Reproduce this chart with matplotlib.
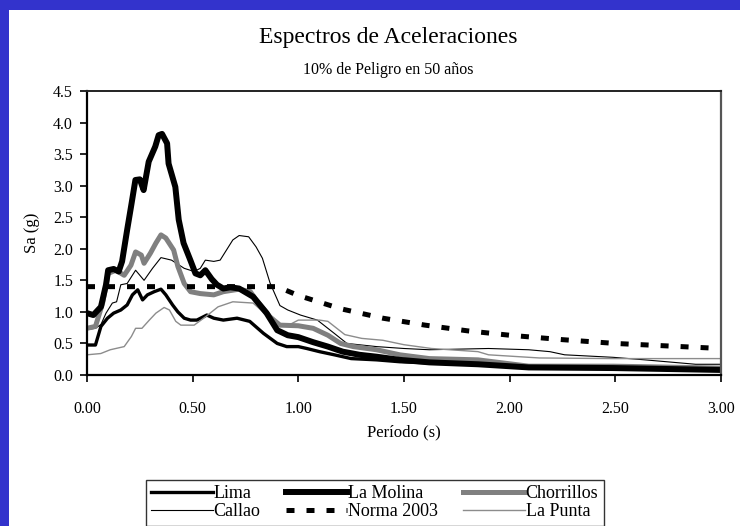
import matplotlib
matplotlib.use("Agg")
import matplotlib.pyplot as plt
from matplotlib.patches import Rectangle
from matplotlib.ticker import FormatStrFormatter, MultipleLocator

plt.rcParams['font.family'] = ['Liberation Serif', 'DejaVu Serif']

# Spectral acceleration Sa (g) vs. period T (s)
lima_t = [0.00, 0.04, 0.066, 0.097, 0.126, 0.16, 0.19, 0.215, 0.24, 0.263, 0.286, 0.318,
          0.35, 0.373, 0.405, 0.43, 0.46, 0.49, 0.52, 0.567, 0.60, 0.645, 0.71, 0.77,
          0.835, 0.90, 0.945, 1.00, 1.04, 1.10, 1.17, 1.25, 1.37, 1.48, 1.65, 1.85,
          2.10, 2.50, 3.00]
lima_sa = [0.475, 0.475, 0.77, 0.90, 0.98, 1.03, 1.11, 1.27, 1.35, 1.19, 1.27, 1.32,
           1.36, 1.27, 1.11, 1.00, 0.90, 0.87, 0.87, 0.95, 0.90, 0.87, 0.90, 0.85,
           0.66, 0.50, 0.45, 0.45, 0.42, 0.37, 0.32, 0.26, 0.24, 0.21, 0.19, 0.17,
           0.14, 0.12, 0.10]

molina_t = [0.00, 0.03, 0.066, 0.09, 0.10, 0.126, 0.15, 0.166, 0.19, 0.21, 0.229, 0.25,
            0.268, 0.292, 0.323, 0.339, 0.355, 0.379, 0.386, 0.418, 0.434, 0.457, 0.489,
            0.513, 0.536, 0.56, 0.59, 0.615, 0.645, 0.678, 0.72, 0.786, 0.85, 0.90,
            0.95, 1.00, 1.07, 1.14, 1.21, 1.29, 1.37, 1.48, 1.62, 1.85, 2.09, 2.49, 3.00]
molina_sa = [0.98, 0.95, 1.08, 1.43, 1.66, 1.68, 1.64, 1.80, 2.30, 2.70, 3.09, 3.10,
             2.93, 3.38, 3.62, 3.80, 3.82, 3.67, 3.35, 2.98, 2.46, 2.09, 1.82,
             1.61, 1.58, 1.66, 1.52, 1.43, 1.37, 1.39, 1.37, 1.24, 0.98, 0.71,
             0.63, 0.60, 0.52, 0.45, 0.37, 0.32, 0.29, 0.24, 0.20, 0.17, 0.12, 0.11, 0.08]

chorrillos_t = [0.00, 0.04, 0.074, 0.10, 0.137, 0.176, 0.208, 0.23, 0.257, 0.27, 0.30,
                0.326, 0.35, 0.373, 0.41, 0.43, 0.46, 0.49, 0.536, 0.60, 0.645, 0.72,
                0.773, 0.80, 0.866, 0.913, 1.00, 1.07, 1.14, 1.20, 1.26, 1.37, 1.48,
                1.62, 1.85, 2.09, 2.49, 3.00]
chorrillos_sa = [0.74, 0.77, 1.14, 1.61, 1.66, 1.58, 1.74, 1.95, 1.90, 1.77, 1.93,
                 2.09, 2.22, 2.17, 1.98, 1.72, 1.45, 1.32, 1.29, 1.27, 1.32, 1.36,
                 1.32, 1.19, 0.92, 0.79, 0.78, 0.74, 0.63, 0.50, 0.45, 0.40, 0.32,
                 0.26, 0.24, 0.14, 0.14, 0.11]

callao_t = [0.00, 0.04, 0.066, 0.09, 0.12, 0.14, 0.16, 0.19, 0.23, 0.27, 0.31, 0.35,
            0.40, 0.46, 0.507, 0.536, 0.56, 0.60, 0.63, 0.66, 0.69, 0.72, 0.765, 0.80,
            0.83, 0.866, 0.913, 0.95, 1.01, 1.09, 1.17, 1.23, 1.37, 1.50, 1.62, 1.90,
            2.09, 2.19, 2.26, 2.49, 2.64, 2.88, 3.00]
callao_sa = [0.72, 0.74, 0.80, 0.98, 1.14, 1.16, 1.43, 1.45, 1.66, 1.50, 1.69, 1.86,
             1.82, 1.69, 1.64, 1.69, 1.82, 1.80, 1.82, 1.98, 2.14, 2.21, 2.19, 2.03,
             1.85, 1.46, 1.10, 1.03, 0.95, 0.87, 0.66, 0.50, 0.45, 0.42, 0.40, 0.42,
             0.40, 0.37, 0.32, 0.28, 0.24, 0.17, 0.17]

punta_t = [0.00, 0.065, 0.11, 0.176, 0.21, 0.23, 0.26, 0.295, 0.326, 0.365, 0.39, 0.42,
           0.444, 0.507, 0.56, 0.62, 0.69, 0.786, 0.85, 0.913, 0.96, 1.00, 1.10, 1.14,
           1.22, 1.30, 1.40, 1.50, 1.63, 1.85, 1.90, 2.14, 2.49, 3.00]
punta_sa = [0.32, 0.34, 0.40, 0.45, 0.61, 0.74, 0.74, 0.87, 0.98, 1.07, 1.03, 0.85,
            0.79, 0.79, 0.92, 1.08, 1.16, 1.14, 0.95, 0.77, 0.80, 0.87, 0.87, 0.85,
            0.64, 0.58, 0.55, 0.48, 0.42, 0.37, 0.32, 0.27, 0.26, 0.26]

norma_t = [0.00, 0.90, 1.00, 1.20, 1.40, 1.60, 1.80, 2.00, 2.25, 2.50, 2.75, 3.00]
norma_sa = [1.40, 1.40, 1.26, 1.05, 0.90, 0.79, 0.70, 0.63, 0.56, 0.50, 0.46, 0.42]

x_ticks = [0.0, 0.5, 1.0, 1.5, 2.0, 2.5, 3.0]

W, H = 740, 526
fig = plt.figure(figsize=(W / 100, H / 100), dpi=100, facecolor='white')

# slide frame strips (left and top)
blue = '#3333CC'
fig.patches.append(Rectangle((0, 0), 9 / W, 1, transform=fig.transFigure,
                             facecolor=blue, edgecolor='none', zorder=0))
fig.patches.append(Rectangle((0, 1 - 10 / H), 1, 10 / H, transform=fig.transFigure,
                             facecolor=blue, edgecolor='none', zorder=0))

ax = fig.add_axes([87 / W, 1 - 375 / H, (721 - 87) / W, (375 - 91) / H])

l_lima, = ax.plot(lima_t, lima_sa, color='black', lw=2.4, solid_joinstyle='round')
l_callao, = ax.plot(callao_t, callao_sa, color='black', lw=0.8)
l_punta, = ax.plot(punta_t, punta_sa, color='#8c8c8c', lw=1.0)
l_chor, = ax.plot(chorrillos_t, chorrillos_sa, color='#808080', lw=3.6,
                  solid_joinstyle='round')
l_norma, = ax.plot(norma_t, norma_sa, color='black', lw=3.6,
                   linestyle=(0, (1.6, 2.4)), dash_capstyle='butt')
l_molina, = ax.plot(molina_t, molina_sa, color='black', lw=4.3, solid_joinstyle='round')

ax.set_xlim(0, 3.0)
ax.set_ylim(0, 4.5)
ax.set_xticks(x_ticks)
ax.yaxis.set_major_locator(MultipleLocator(0.5))
ax.xaxis.set_major_formatter(FormatStrFormatter('%.2f'))
ax.yaxis.set_major_formatter(FormatStrFormatter('%.1f'))
ax.tick_params(axis='both', direction='out', length=5, width=1.2, labelsize=11.5,
               colors='black')
ax.tick_params(axis='x', pad=14)
ax.tick_params(axis='y', pad=5)

for side in ('left', 'bottom'):
    ax.spines[side].set_color('black')
    ax.spines[side].set_linewidth(1.6)
ax.spines['top'].set_color('#222222')
ax.spines['top'].set_linewidth(1.4)
ax.spines['right'].set_color('#555555')
ax.spines['right'].set_linewidth(1.6)

ax.set_xlabel('Período (s)', fontsize=12)
ax.xaxis.set_label_coords(0.5, -(432 - 375) / (375 - 91), transform=ax.transAxes)
ax.xaxis.label.set_va('center')
ax.set_ylabel('Sa (g)', fontsize=12)
ax.yaxis.set_label_coords(-(87 - 32) / (721 - 87), 0.5)
ax.yaxis.label.set_va('center')

fig.text(388 / W, 1 - 38 / H, 'Espectros de Aceleraciones', ha='center', va='center',
         fontsize=17)
fig.text(388 / W, 1 - 70 / H, '10% de Peligro en 50 años', ha='center', va='center',
         fontsize=11.5)

handles = [l_lima, l_callao, l_molina, l_norma, l_chor, l_punta]
labels = ['Lima', 'Callao', 'La Molina', 'Norma 2003', 'Chorrillos', 'La Punta']
leg = fig.legend(handles, labels, ncol=3, loc='upper left',
                 bbox_to_anchor=(146 / W, 1 - 480 / H), fontsize=13,
                 frameon=True, fancybox=False, edgecolor='black',
                 handlelength=3.4, handletextpad=0.05, columnspacing=1.4,
                 labelspacing=0.05, borderpad=0.3, borderaxespad=0)
leg.get_frame().set_linewidth(1.0)

fig.savefig('out.png', dpi=100, facecolor='white')
